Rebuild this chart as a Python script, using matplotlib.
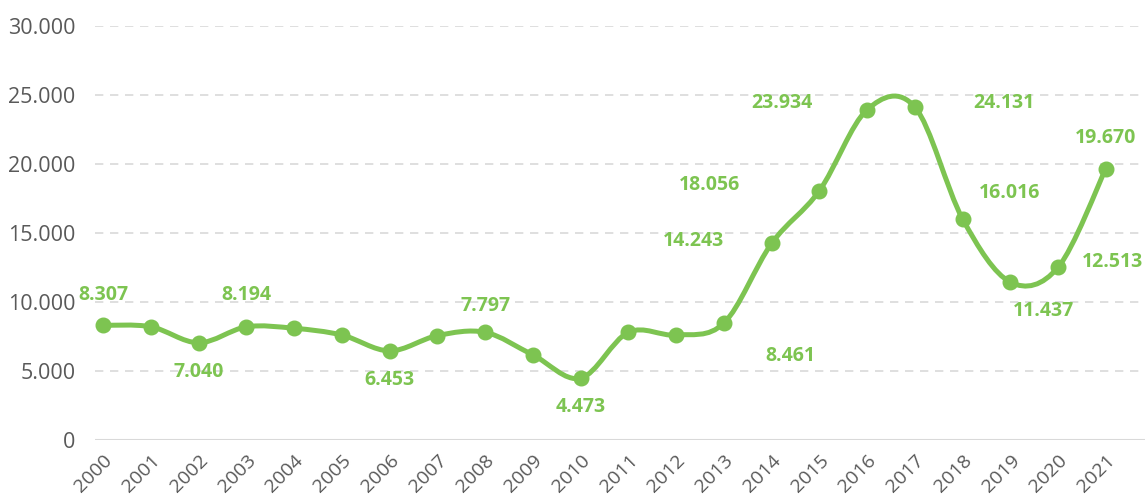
import numpy as np
import matplotlib.pyplot as plt
from matplotlib.path import Path
from matplotlib.patches import PathPatch

years = [str(y) for y in range(2000, 2022)]
values = [8.307, 8.20, 7.040, 8.194, 8.09, 7.60, 6.453, 7.56, 7.797, 6.16, 4.473,
          7.80, 7.60, 8.461, 14.243, 18.056, 23.934, 24.131, 16.016, 11.437, 12.513, 19.670]
# index -> label position (dx, dy in points)
labels = {0: (0, 22), 2: (0, -21), 3: (0, 23), 6: (0, -21), 8: (0, 19), 10: (0, -21),
          13: (48, -24), 14: (-56, 2), 15: (-79, 4), 16: (-61, 5), 17: (64, 3),
          18: (34, 19), 19: (24, -21), 20: (39, 4), 21: (0, 22)}

green = "#7DC451"
grey = "#595959"

plt.rcParams['font.family'] = ['Open Sans', 'DejaVu Sans']

fig = plt.figure(figsize=(11.45, 5.01), dpi=100)
ax = fig.add_axes([0.083, 0.122, 0.917, 0.826])

x = np.arange(len(values))
y = np.array(values) * 1000

# smoothed line (Catmull-Rom style bezier, like Excel's smoothed line)
verts = [(x[0], y[0])]
codes = [Path.MOVETO]
px = np.concatenate([[x[0]], x, [x[-1]]])
py = np.concatenate([[y[0]], y, [y[-1]]])
for i in range(1, len(px) - 2):
    c1 = (px[i] + (px[i + 1] - px[i - 1]) / 6, py[i] + (py[i + 1] - py[i - 1]) / 6)
    c2 = (px[i + 1] - (px[i + 2] - px[i]) / 6, py[i + 1] - (py[i + 2] - py[i]) / 6)
    verts += [c1, c2, (px[i + 1], py[i + 1])]
    codes += [Path.CURVE4] * 3
ax.add_patch(PathPatch(Path(verts, codes), fill=False, edgecolor=green, lw=3.6,
                       capstyle="round", joinstyle="round", zorder=3))
ax.plot(x, y, "o", color=green, markersize=10.5, zorder=4)

for i, (dx, dy) in labels.items():
    txt = f"{values[i]:.3f}"
    ax.annotate(txt, (x[i], y[i]), xytext=(dx, dy), textcoords="offset points",
                ha="center", va="center", color=green, fontsize=14, fontweight="bold")

ax.set_ylim(0, 30000)
ax.set_xlim(-0.17, 21.82)
yt = np.arange(0, 30001, 5000)
ax.set_yticks(yt)
ax.set_yticklabels(["0"] + [f"{v // 1000}.000" for v in yt[1:]])
ax.set_xticks(x)
ax.set_xticklabels(years, rotation=45, ha="right", rotation_mode="anchor")
ax.tick_params(axis="both", length=0, colors=grey, labelsize=14)
ax.tick_params(axis="y", pad=14, labelsize=15.5)
ax.tick_params(axis="x", pad=8)

for v in yt[1:]:
    ax.axhline(v, color="#D9D9D9", lw=1.2, linestyle=(0, (5, 4)), zorder=1)
ax.axhline(0, color="#D9D9D9", lw=1.5, zorder=1)
for s in ax.spines.values():
    s.set_visible(False)

plt.savefig("out.png", dpi=100)
